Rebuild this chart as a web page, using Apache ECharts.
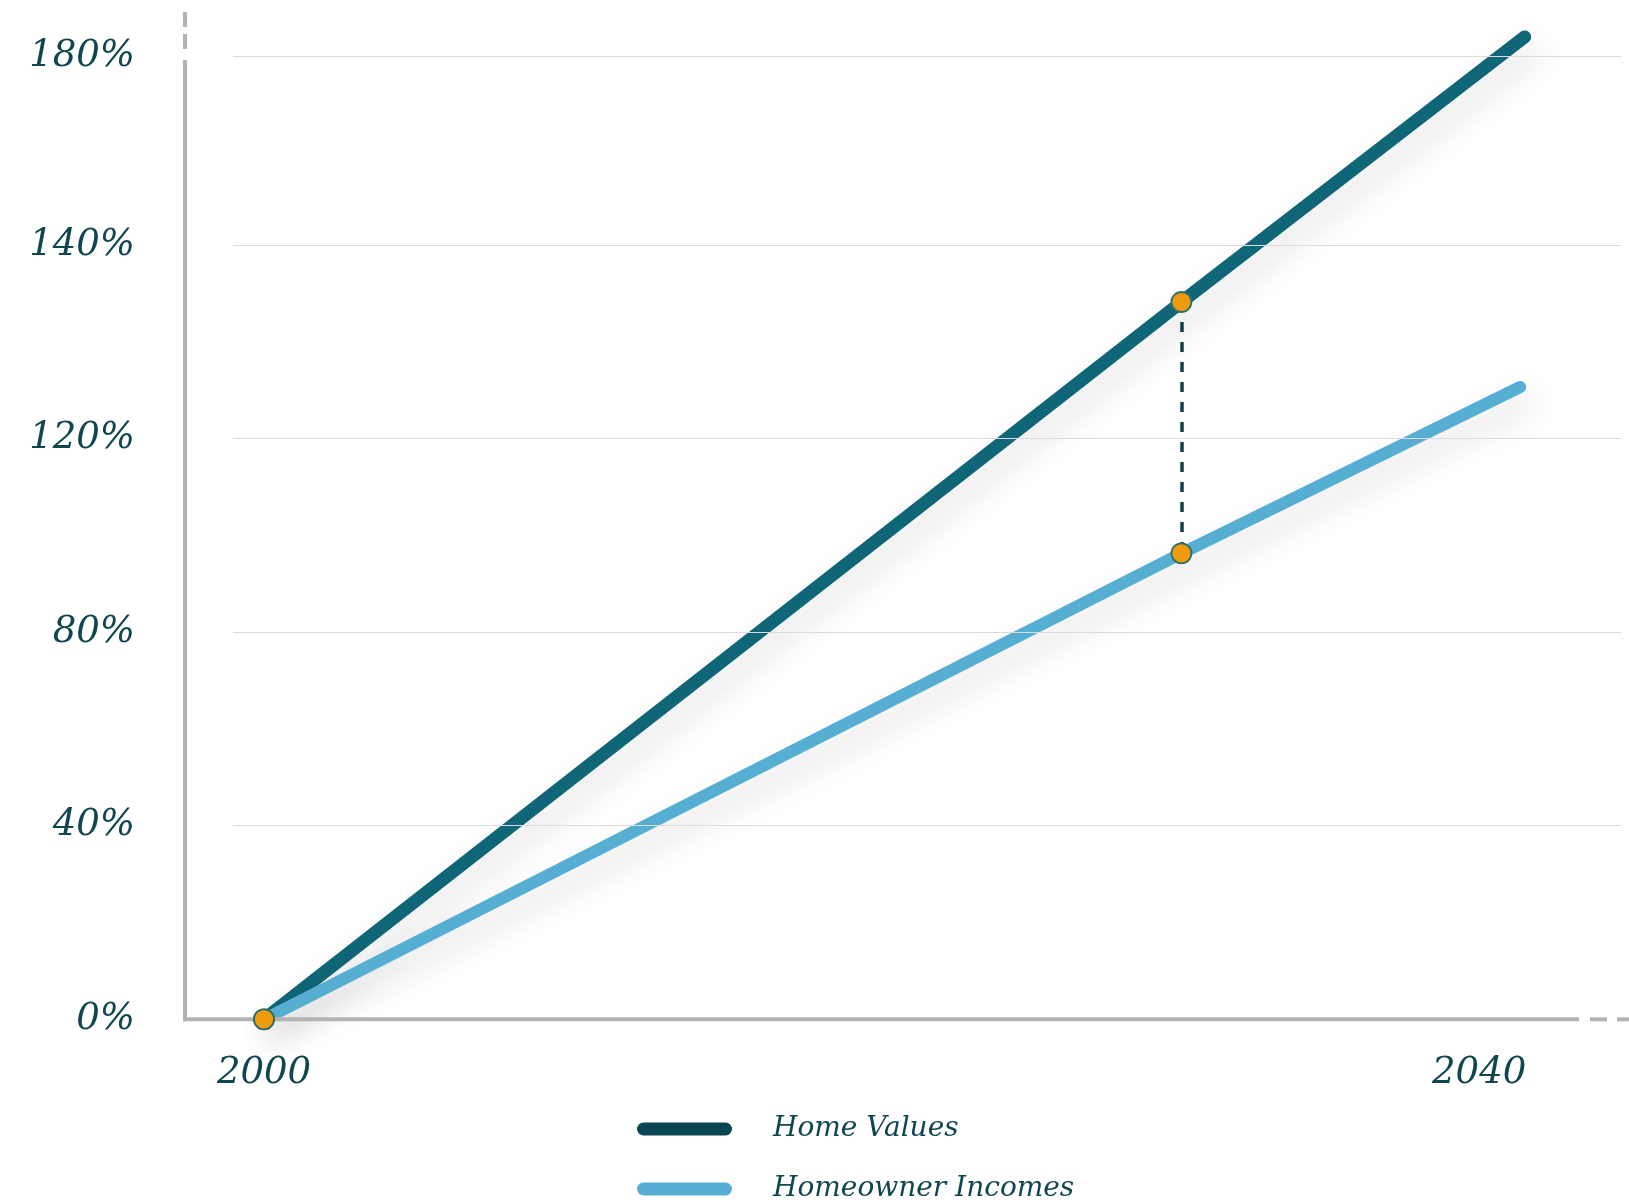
<!DOCTYPE html>
<html><head><meta charset="utf-8">
<script src="https://cdn.jsdelivr.net/npm/echarts@6/dist/echarts.min.js"></script>
<style>html,body{margin:0;padding:0;background:#fff}#c{width:1629px;height:1200px}</style>
</head><body><div id="c"></div>
<script>
// ---- data (y in gridline steps; labels are the chart's own tick labels) ----
const seriesNames = ['Home Values', 'Homeowner Incomes'];
const homeYears = [2000, 2030.2, 2041.5];
const homeValues = [0, 3.705, 5.074];
const incomeYears = [2000, 2030.2, 2041.35];
const incomeValues = [0, 2.407, 3.266];
const markerIndices = [0, 1];
const yTickValues = [0, 1, 2, 3, 4, 4.973];
const yTickLabels = ['0%', '40%', '80%', '120%', '140%', '180%'];
const xTickValues = [2000, 2040];

// ---- layout / style ----
const X_MIN = 1997.4, X_MAX = 2044.67, Y_MIN = 0, Y_MAX = 5;
const GRID_START_X = 1998.98;
const FONT = 'DejaVu Serif';
const TEXT_COLOR = '#0f4650';
const DARK = '#0e6677', LIGHT = '#56afd3';
const AXIS_GRAY = '#b3b3b3';
const pill = 'path://M6.5,0H88.5A6.5,6.5,0,0,1,88.5,13H6.5A6.5,6.5,0,0,1,6.5,0Z';

const chart = echarts.init(document.getElementById('c'), null, {renderer: 'canvas'});
const shadow = {shadowColor: 'rgba(0,0,0,0.15)', shadowBlur: 30, shadowOffsetX: 8, shadowOffsetY: 14};

const homeData = homeYears.map((x, i) => [x, homeValues[i]]);
const incomeData = incomeYears.map((x, i) => [x, incomeValues[i]]);
const markerData = markerIndices.map(i => homeData[i]).concat(markerIndices.map(i => incomeData[i]));

chart.setOption({
  animation: false,
  backgroundColor: '#fff',
  grid: {left: 185, right: 8, top: 51.3, bottom: 180.7},
  xAxis: {
    type: 'value', min: X_MIN, max: X_MAX,
    axisLine: {show: false}, axisTick: {show: false}, splitLine: {show: false},
    axisLabel: {
      customValues: xTickValues, margin: 36,
      fontFamily: FONT, fontStyle: 'italic', fontSize: 37, color: TEXT_COLOR,
      formatter: v => String(v)
    }
  },
  yAxis: {
    type: 'value', min: Y_MIN, max: Y_MAX,
    axisLine: {show: false}, axisTick: {show: false}, splitLine: {show: false},
    axisLabel: {
      customValues: yTickValues, margin: 50,
      fontFamily: FONT, fontStyle: 'italic', fontSize: 37, color: TEXT_COLOR,
      formatter: v => {
        let best = 0;
        yTickValues.forEach((t, i) => { if (Math.abs(t - v) < Math.abs(yTickValues[best] - v)) best = i; });
        return yTickLabels[best];
      }
    }
  },
  legend: {
    orient: 'vertical', left: 632, top: 1110, height: 90,
    itemWidth: 95, itemHeight: 13, itemGap: 32,
    textStyle: {fontFamily: FONT, fontStyle: 'italic', fontSize: 28, color: TEXT_COLOR, lineHeight: 27, padding: [0, 0, 0, 36]},
    data: [
      {name: seriesNames[0], icon: pill, itemStyle: {color: '#0b4552'}},
      {name: seriesNames[1], icon: pill, itemStyle: {color: LIGHT}}
    ]
  },
  series: [
    {
      type: 'line', name: '_grid', z: 1, silent: true, data: [],
      markLine: {
        silent: true, symbol: 'none', animation: false, label: {show: false},
        lineStyle: {color: '#dcdcdc', width: 1.2, type: 'solid'},
        data: yTickValues.slice(1).map(v => [{coord: [GRID_START_X, v]}, {coord: [X_MAX, v]}])
      }
    },
    {
      type: 'line', name: seriesNames[0], z: 3, clip: false, symbol: 'none', data: homeData,
      lineStyle: Object.assign({width: 13, color: DARK, cap: 'round'}, shadow),
      itemStyle: {color: DARK},
      markLine: {
        silent: true, symbol: 'none', animation: false, label: {show: false},
        lineStyle: {color: '#143f49', width: 3.5, type: [10, 10], shadowBlur: 0},
        data: [[{coord: homeData[markerIndices[1]]}, {coord: incomeData[markerIndices[1]]}]]
      }
    },
    {
      type: 'line', name: seriesNames[1], z: 4, clip: false, symbol: 'none', data: incomeData,
      lineStyle: Object.assign({width: 12, color: LIGHT, cap: 'round'}, shadow),
      itemStyle: {color: LIGHT}
    },
    {
      type: 'scatter', name: '_markers', z: 10, clip: false, silent: true,
      symbolSize: 20, data: markerData,
      itemStyle: {color: '#f09a0e', borderColor: '#2f7064', borderWidth: 1.8, opacity: 1}
    }
  ]
});

// axis lines (decoration) placed from the axis scale
const o = chart.convertToPixel({gridIndex: 0}, [X_MIN, 0]);
const ax = o[0], ay = o[1];
const seg = (x1, y1, x2, y2) => ({type: 'line', silent: true, z: 5,
  shape: {x1, y1, x2, y2}, style: {stroke: AXIS_GRAY, lineWidth: 4}});
chart.setOption({
  graphic: [
    seg(ax, ay + 2, ax, 60),
    seg(ax, 49, ax, 34),
    seg(ax, 27, ax, 12),
    seg(ax - 2, ay, 1579, ay),
    seg(1590, ay, 1607, ay),
    seg(1617, ay, 1629, ay)
  ]
});
</script>
</body></html>
